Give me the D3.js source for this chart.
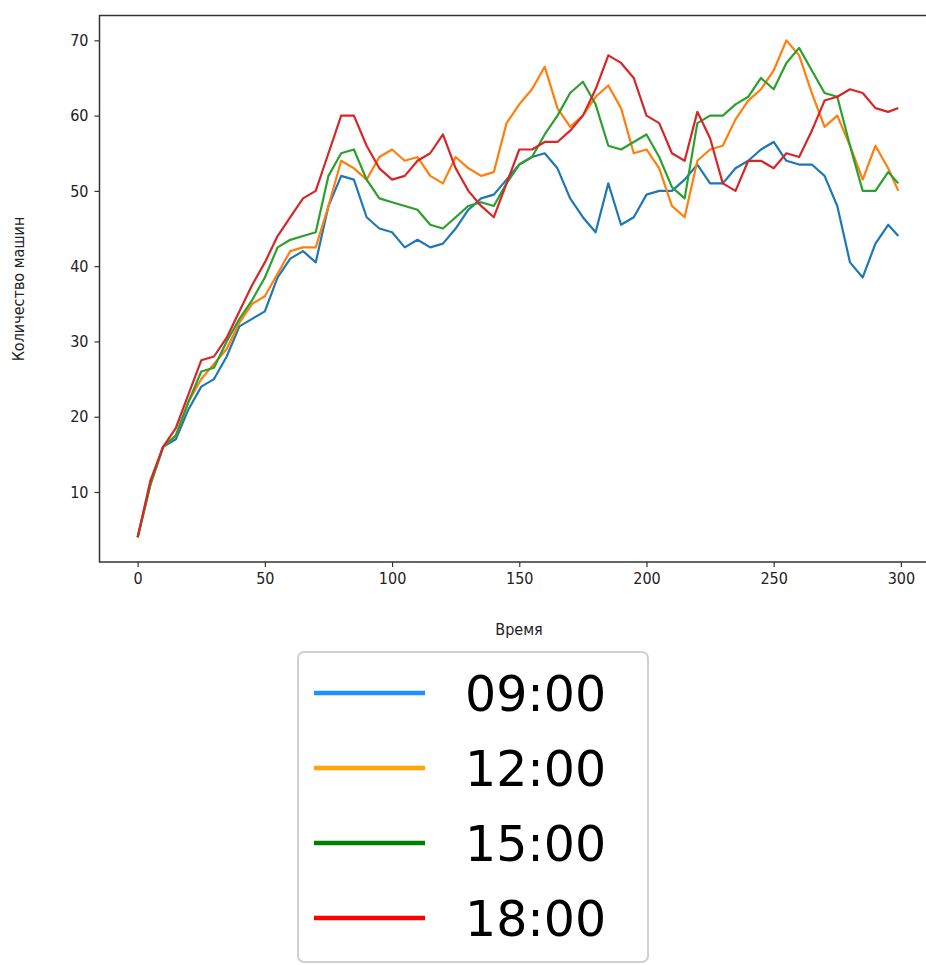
<!DOCTYPE html>
<html>
<head>
<meta charset="utf-8">
<script src="https://cdn.jsdelivr.net/npm/d3@7"></script>
<style>
  body { margin: 0; background: #fff; }
  text { font-family: "DejaVu Sans", sans-serif; }
  .lbl { font-family: "DejaVu Sans Condensed", "DejaVu Sans", sans-serif; }
</style>
</head>
<body>
<div id="chart"></div>
<script>
var time = [0,5,10,15,20,25,30,35,40,45,50,55,60,65,70,75,80,85,90,95,
  100,105,110,115,120,125,130,135,140,145,150,155,160,165,170,175,180,185,190,195,
  200,205,210,215,220,225,230,235,240,245,250,255,260,265,270,275,280,285,290,295,299];

var cars0900 = [4,11,16,17,21,24,25,28,32,33,34,38.5,41,42,40.5,48,52,51.5,46.5,45,
  44.5,42.5,43.5,42.5,43,45,47.5,49,49.5,51.5,53.5,54.5,55,53,49,46.5,44.5,51,45.5,46.5,
  49.5,50,50,51.5,53.5,51,51,53,54,55.5,56.5,54,53.5,53.5,52,48,40.5,38.5,43,45.5,44];

var cars1200 = [4,11,16,17.5,22,25,27,29,32.5,35,36,39,42,42.5,42.5,48,54,53,51.5,54.5,
  55.5,54,54.5,52,51,54.5,53,52,52.5,59,61.5,63.5,66.5,61,58.5,60,62.5,64,61,55,
  55.5,53,48,46.5,54,55.5,56,59.5,62,63.5,66,70,68,63,58.5,60,56,51.5,56,53,50];

var cars1500 = [4,11,16,17.5,22,26,26.5,30,33,35.5,38.5,42.5,43.5,44,44.5,52,55,55.5,51.5,49,
  48.5,48,47.5,45.5,45,46.5,48,48.5,48,51,53.5,54.5,57.5,60,63,64.5,61.5,56,55.5,56.5,
  57.5,54.5,50.5,49,59,60,60,61.5,62.5,65,63.5,67,69,66,63,62.5,56,50,50,52.5,51];

var cars1800 = [4,11.5,16,18.5,23,27.5,28,30.5,34,37.5,40.5,44,46.5,49,50,55,60,60,56,53,
  51.5,52,54,55,57.5,53,50,48,46.5,51,55.5,55.5,56.5,56.5,58,60,63.5,68,67,65,
  60,59,55,54,60.5,57,51,50,54,54,53,55,54.5,58,62,62.5,63.5,63,61,60.5,61];

var seriesNames = ['09:00','12:00','15:00','18:00'];
var lineColors = ['#1f77b4','#ff7f0e','#2ca02c','#d62728'];
var legendColors = ['#1e90ff','#ffa500','#008000','#ff0000'];
var xTicks = [0,50,100,150,200,250,300];
var yTicks = [10,20,30,40,50,60,70];

var series = [cars0900, cars1200, cars1500, cars1800];

var margin = {top: 15.5, left: 99.5},
  plotW = 837, plotH = 546.5;

var svg = d3.select('#chart')
  .append('svg')
    .attr('width', 926)
    .attr('height', 965);

var g = svg.append('g')
  .attr('transform', 'translate(' + margin.left + ',' + margin.top + ')');

var x = d3.scaleLinear().domain([-15, 314]).range([0, plotW]);
var y = d3.scaleLinear().domain([0.7, 73.3]).range([plotH, 0]);

var line = d3.line()
  .x(function(d, i) { return x(time[i]); })
  .y(function(d) { return y(d); });

g.selectAll('.series')
  .data(series).enter()
  .append('path')
    .attr('class', 'series')
    .attr('fill', 'none')
    .attr('stroke', function(d, i) { return lineColors[i]; })
    .attr('stroke-width', 2.2)
    .attr('stroke-linejoin', 'round')
    .attr('d', line);

// frame
g.append('rect')
  .attr('width', plotW)
  .attr('height', plotH)
  .attr('fill', 'none')
  .attr('stroke', '#333')
  .attr('stroke-width', 1.5);

var xAxis = g.append('g')
  .attr('transform', 'translate(0,' + plotH + ')')
  .call(d3.axisBottom(x).tickValues(xTicks).tickSize(5).tickPadding(6));
var yAxis = g.append('g')
  .call(d3.axisLeft(y).tickValues(yTicks).tickSize(5).tickPadding(6));

[xAxis, yAxis].forEach(function(a) {
  a.select('.domain').remove();
  a.selectAll('line').attr('stroke', '#333').attr('stroke-width', 1.2);
  a.selectAll('text').attr('class', 'lbl').attr('font-size', 16).attr('fill', '#222');
});

svg.append('text')
  .attr('class', 'lbl')
  .attr('x', 519)
  .attr('y', 635)
  .attr('text-anchor', 'middle')
  .attr('font-size', 16)
  .attr('fill', '#222')
  .text('Время');

svg.append('text')
  .attr('class', 'lbl')
  .attr('transform', 'translate(24,289) rotate(-90)')
  .attr('text-anchor', 'middle')
  .attr('font-size', 16)
  .attr('fill', '#222')
  .text('Количество машин');

// legend
var legend = svg.append('g').attr('transform', 'translate(298,652)');
legend.append('rect')
  .attr('width', 350)
  .attr('height', 310)
  .attr('rx', 6)
  .attr('fill', '#fff')
  .attr('stroke', '#d0d0d0')
  .attr('stroke-width', 2);

var item = legend.selectAll('.item')
  .data(seriesNames).enter()
  .append('g')
    .attr('class', 'item')
    .attr('transform', function(d, i) { return 'translate(0,' + (41 + i * 75) + ')'; });

item.append('line')
  .attr('x1', 16).attr('x2', 127)
  .attr('stroke', function(d, i) { return legendColors[i]; })
  .attr('stroke-width', 4.5);

item.append('text')
  .attr('x', 167)
  .attr('y', 18)
  .attr('font-size', 49)
  .attr('fill', '#000')
  .text(function(d) { return d; });
</script>
</body>
</html>
